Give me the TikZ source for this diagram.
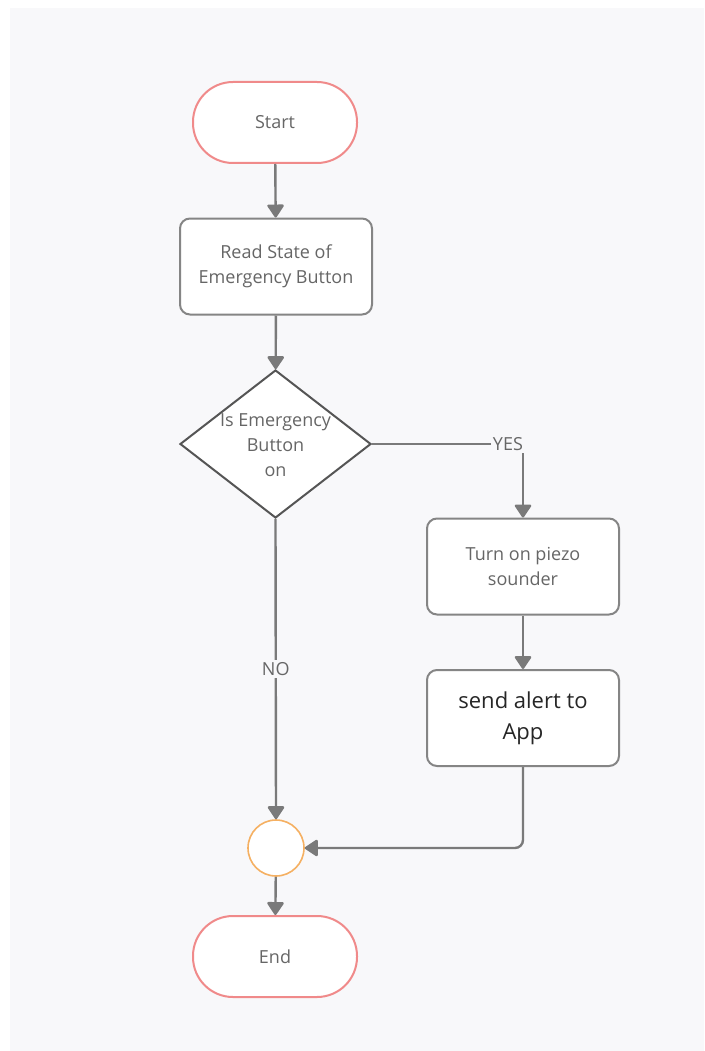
\documentclass[tikz,border=0pt]{standalone}
\usepackage{fontspec}
\setmainfont{Open Sans}
\usetikzlibrary{shapes.geometric,arrows.meta}

\definecolor{panel}{HTML}{F8F8FA}
\definecolor{termred}{HTML}{F08A8A}
\definecolor{boxgray}{HTML}{858585}
\definecolor{decgray}{HTML}{555555}
\definecolor{flowgray}{HTML}{7A7A7A}
\definecolor{txtgray}{HTML}{666666}
\definecolor{joinorange}{HTML}{F5B062}

\tikzset{
  base/.style={font=\fontsize{18}{25}\selectfont, text=txtgray, align=center, fill=white},
  terminal/.style={base, draw=termred, line width=2pt, minimum width=164pt,
    minimum height=81pt, rounded corners=40pt},
  process/.style={base, draw=boxgray, line width=2pt, minimum width=192pt,
    minimum height=96pt, rounded corners=10pt},
  decision/.style={diamond, draw=decgray, line width=2pt, fill=white,
    minimum width=191pt, minimum height=148pt, inner sep=0pt},
  joint/.style={circle, draw=joinorange, line width=1.6pt, fill=white,
    minimum size=56pt, inner sep=0pt},
  flow/.style={draw=flowgray, line width=2.4pt,
    -{Triangle[width=18pt,length=14pt,round]}},
  edgelabel/.style={font=\fontsize{18}{20}\selectfont, text=txtgray,
    fill=panel, inner sep=2pt}
}

\begin{document}
\begin{tikzpicture}[x=1pt,y=-1pt]
  % page and panel
  \useasboundingbox (0,0) rectangle (704,1051);
  \fill[white] (0,0) rectangle (704,1051);
  \fill[panel] (10,8) rectangle (704,1051);

  % nodes
  \node[terminal] (start) at (275,122.5) {Start};
  \node[process] (read) at (276,266.5) {Read State of\\Emergency Button};
  \node[decision] (dec) at (275.5,444) {};
  \node[base, fill=none] (dectext) at (275.5,445) {Is Emergency\\Button\\on};
  \node[process] (turn) at (523,566.5) {Turn on piezo\\sounder};
  \node[process, font=\fontsize{22}{31}\selectfont, text=black!85] (send) at (523,718) {send alert to\\App};
  \node[joint] (join) at (276,848) {};
  \node[terminal] (end) at (275,956.5) {End};

  % connectors
  \draw[flow] (start) -- (read);
  \draw[flow] (read) -- (dec);
  \draw[flow] (dec.east) -| node[edgelabel, pos=0.45] {YES} (turn.north);
  \draw[flow] (dec.south) -- node[edgelabel] {NO} (join.north);
  \draw[flow] (turn) -- (send);
  \draw[flow, rounded corners=8pt] (send.south) |- (join.east);
  \draw[flow] (join) -- (end);
\end{tikzpicture}
\end{document}
